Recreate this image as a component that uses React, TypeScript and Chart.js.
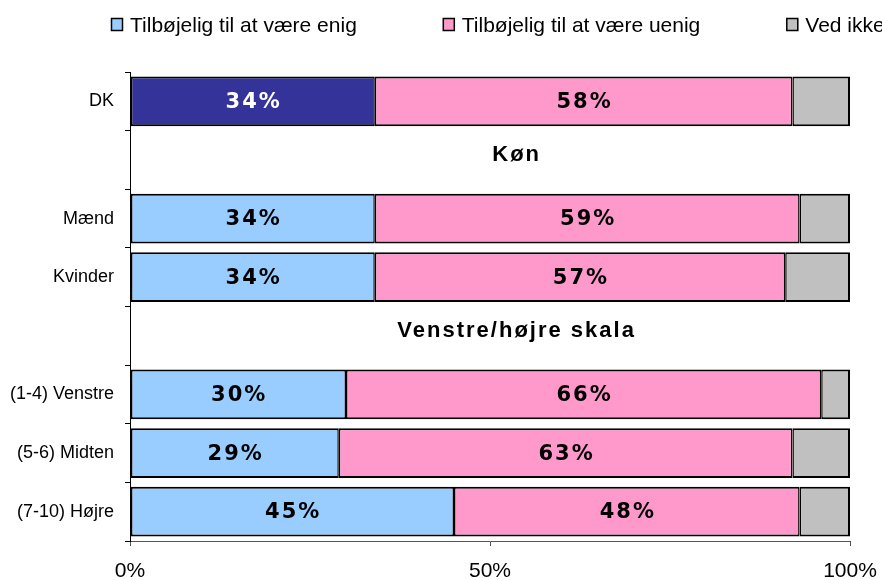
import React, { useEffect, useRef } from 'react';
import { Chart, registerables } from 'chart.js';

Chart.register(...registerables);

// ---- Data ----
const categories = ['DK', '', 'Mænd', 'Kvinder', '', '(1-4) Venstre', '(5-6) Midten', '(7-10) Højre'];
const sectionHeadings = [null, 'Køn', null, null, 'Venstre/højre skala', null, null, null];
const enig = [34, null, 34, 34, null, 30, 29, 45];
const uenig = [58, null, 59, 57, null, 66, 63, 48];
const vedIkke = [8, null, 7, 9, null, 4, 8, 7];
const seriesNames = ['Tilbøjelig til at være enig', 'Tilbøjelig til at være uenig', 'Ved ikke'];
const xTickValues = [0, 50, 100];

// ---- Styles ----
const COLOR_ENIG = '#99CCFF';
const COLOR_DK = '#333399';
const COLOR_UENIG = '#FF99CC';
const COLOR_VED = '#C0C0C0';
const legendColors = [COLOR_ENIG, COLOR_UENIG, COLOR_VED];
const ARIAL = '"Liberation Sans", Arial, sans-serif';
const VERDANA = '"DejaVu Sans", Verdana, sans-serif';

const overlayPlugin = {
  id: 'overlay',
  afterDatasetsDraw(chart: any) {
    const ctx = chart.ctx as CanvasRenderingContext2D;
    const { left, right } = chart.chartArea;
    const yScale = chart.scales.y;

    // segment labels
    ctx.save();
    ctx.font = `bold 21px ${VERDANA}`;
    ctx.textAlign = 'center';
    ctx.textBaseline = 'middle';
    (ctx as any).letterSpacing = '2px';
    [0, 1].forEach((di) => {
      const meta = chart.getDatasetMeta(di);
      const data = chart.data.datasets[di].data;
      meta.data.forEach((el: any, i: number) => {
        const v = data[i];
        if (v == null) return;
        const { x, base, y } = el.getProps(['x', 'base', 'y'], true);
        ctx.fillStyle = di === 0 && i === 0 ? '#FFFFFF' : '#000000';
        ctx.fillText(`${v}%`, (x + base) / 2 + 1, y + 1);
      });
    });
    ctx.restore();

    // section headings
    ctx.save();
    ctx.font = `bold 22px ${ARIAL}`;
    ctx.textAlign = 'center';
    ctx.textBaseline = 'middle';
    (ctx as any).letterSpacing = '2px';
    ctx.fillStyle = '#000';
    sectionHeadings.forEach((h, i) => {
      if (!h) return;
      const y = yScale.getPixelForValue(i);
      ctx.fillText(h, left + 0.537 * (right - left), y - 5);
    });
    ctx.restore();
  },
  afterDraw(chart: any) {
    const ctx = chart.ctx as CanvasRenderingContext2D;
    ctx.save();
    ctx.font = `21px ${ARIAL}`;
    ctx.textAlign = 'left';
    ctx.textBaseline = 'alphabetic';
    let x = chart.chartArea.left - 19;
    seriesNames.forEach((name, i) => {
      ctx.fillStyle = legendColors[i];
      ctx.fillRect(x, 18, 12, 13);
      ctx.strokeStyle = '#000';
      ctx.lineWidth = 1.5;
      ctx.strokeRect(x + 0.5, 18.5, 11, 12);
      ctx.fillStyle = '#000';
      ctx.fillText(name, x + 19, 31.5);
      x += 19 + ctx.measureText(name).width + 86;
    });
    ctx.restore();
  },
};

export default function App() {
  const canvasRef = useRef<HTMLCanvasElement | null>(null);

  useEffect(() => {
    if (!canvasRef.current) return;
    const chart = new Chart(canvasRef.current, {
      type: 'bar',
      data: {
        labels: categories,
        datasets: [
          {
            label: seriesNames[0],
            data: enig,
            backgroundColor: enig.map((_, i) => (i === 0 ? COLOR_DK : COLOR_ENIG)),
            borderColor: '#000',
            borderWidth: { top: 2, bottom: 2, left: 2, right: 1.5 },
            borderSkipped: false,
          },
          {
            label: seriesNames[1],
            data: uenig,
            backgroundColor: COLOR_UENIG,
            borderColor: '#000',
            borderWidth: { top: 2, bottom: 2, left: 1.5, right: 1.5 },
            borderSkipped: false,
          },
          {
            label: seriesNames[2],
            data: vedIkke,
            backgroundColor: COLOR_VED,
            borderColor: '#000',
            borderWidth: { top: 2, bottom: 2, left: 1.5, right: 2 },
            borderSkipped: false,
          },
        ] as any,
      },
      options: {
        indexAxis: 'y',
        responsive: false,
        animation: false,
        barPercentage: 0.85,
        categoryPercentage: 1,
        layout: { padding: { top: 72, right: 32, left: 0, bottom: 0 } },
        plugins: {
          legend: { display: false },
          tooltip: { enabled: false },
        },
        scales: {
          x: {
            stacked: true,
            min: 0,
            max: 100,
            afterBuildTicks: (s: any) => {
              s.ticks = xTickValues.map((v) => ({ value: v }));
            },
            ticks: {
              callback: (v: any) => `${v}%`,
              font: { family: ARIAL, size: 21 },
              color: '#000',
              padding: 13,
              maxRotation: 0,
            },
            grid: { drawOnChartArea: false, tickLength: 5, color: '#555' },
            border: { color: '#555', width: 1 },
            afterFit: (s: any) => {
              s.height = 39;
              s.paddingRight = 0;
              s.paddingLeft = 0;
            },
          },
          y: {
            stacked: true,
            ticks: {
              font: { family: ARIAL, size: 18 },
              color: '#000',
              padding: 11,
              autoSkip: false,
            },
            grid: { drawOnChartArea: false, tickLength: 5, color: '#000', offset: true },
            border: { color: '#000', width: 1 },
            afterFit: (s: any) => {
              s.width = 130;
            },
          },
        },
      } as any,
      plugins: [overlayPlugin],
    });
    return () => chart.destroy();
  }, []);

  return (
    <div style={{ position: 'fixed', left: 0, top: 0, width: 882, height: 580, background: '#fff' }}>
      <canvas ref={canvasRef} width={882} height={580} style={{ display: 'block' }} />
    </div>
  );
}
